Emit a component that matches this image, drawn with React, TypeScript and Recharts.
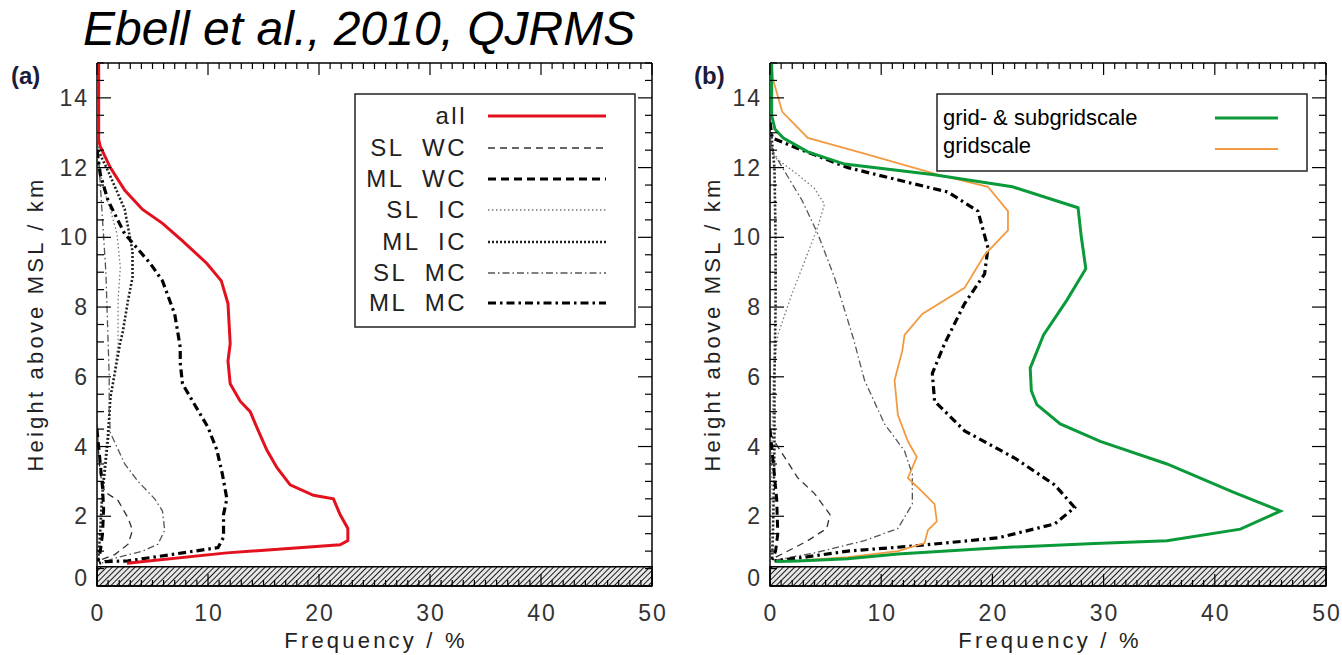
import { ScatterChart, Scatter, XAxis, YAxis, ReferenceArea } from "recharts"

// profiles: [frequency %, height km]
const allA = [[0.15,15],[0.15,13.6],[0.15,12.8],[0.3,12.6],[1.2,12.0],[2.5,11.35],[4.1,10.8],[5.9,10.4],[7.7,9.9],[9.9,9.25],[11.2,8.75],[11.8,8.1],[12.0,6.95],[11.8,6.45],[12.0,5.8],[12.9,5.3],[13.8,5.0],[14.4,4.55],[15.3,3.9],[16.2,3.4],[17.4,2.9],[19.5,2.6],[21.3,2.5],[21.9,2.05],[22.6,1.65],[22.6,1.3],[21.9,1.18],[11.7,0.95],[2.7,0.65]]
const slWcA = [[0,5.0],[0.1,4.0],[0.3,3.2],[0.7,2.7],[1.9,2.45],[2.8,1.95],[3.2,1.6],[2.8,1.2],[1.6,0.9],[0.1,0.72]]
const mlWcA = [[0,4.5],[0.3,3.5],[0.5,2.8],[0.6,2.2],[0.5,1.5],[0.3,1.0],[0.1,0.7]]
const slIcA = [[0,12.4],[0.5,11.5],[1.2,10.8],[1.8,10.1],[2.1,9.15],[1.9,8.2],[1.9,6.95],[1.5,6.0],[1.1,5.0],[0.8,4.0],[0.5,3.0],[0.3,2.0],[0.2,1.2],[0.1,0.7]]
const mlIcA = [[0,12.6],[0.4,12.3],[1.0,11.9],[2.5,10.8],[3.2,9.6],[3.2,8.85],[2.8,8.2],[2.3,7.25],[2.1,7.0],[1.6,6.1],[1.2,5.4],[1.0,4.25],[0.7,3.3],[0.45,2.5],[0.3,1.6],[0.1,0.7]]
const slMcA = [[0,12.6],[0.2,12.0],[0.4,11.0],[0.6,10.0],[0.8,9.0],[0.9,8.0],[1.0,7.0],[1.1,6.0],[1.1,5.0],[1.2,4.4],[2.5,3.5],[3.7,3.0],[5.2,2.5],[5.9,2.15],[6.1,1.6],[5.5,1.2],[4.1,1.0],[1.6,0.8],[0.3,0.65]]
const mlMcA = [[0,12.5],[0.3,11.8],[1.0,11.05],[2.5,10.1],[4.8,9.25],[5.9,8.75],[7.0,7.8],[7.5,6.85],[7.5,6.4],[7.7,5.8],[8.8,5.2],[10.0,4.55],[10.8,3.9],[11.3,3.2],[11.7,2.5],[11.4,2.05],[11.4,1.4],[10.9,1.1],[2.8,0.72],[0.7,0.7],[0.2,0.65]]

const gridSubB = [[0.15,15],[0.15,13.5],[0.45,13.1],[1.2,12.85],[3.4,12.45],[6.7,12.1],[14.6,11.8],[21.8,11.45],[27.7,10.85],[28.0,10.0],[28.4,9.1],[26.7,8.2],[24.6,7.2],[23.4,6.25],[23.5,5.6],[24.0,5.2],[26.1,4.65],[29.7,4.15],[35.7,3.5],[41.6,2.7],[45.9,2.15],[42.3,1.63],[35.7,1.3],[29.2,1.22],[20.6,1.1],[11.5,0.92],[7.0,0.78],[2.5,0.72],[0.5,0.7]]
const gridB = [[0.15,15],[0.3,14.5],[1.1,13.6],[3.4,12.85],[8.5,12.4],[15.1,11.8],[19.6,11.45],[21.4,10.75],[21.4,10.2],[19.3,9.5],[17.5,8.55],[13.7,7.8],[12.1,7.2],[11.9,6.75],[11.2,5.9],[11.5,4.9],[12.4,4.15],[13.2,3.7],[12.4,3.1],[13.7,2.7],[14.8,2.35],[15.0,1.85],[14.2,1.6],[13.9,1.23],[11.5,1.0],[7.0,0.83],[3.1,0.74]]
const slWcB = [[0,4.4],[0.5,4.1],[2.5,3.1],[4.0,2.65],[5.4,2.05],[5.1,1.65],[3.4,1.3],[1.3,0.95],[0.2,0.78]]
const mlWcB = [[0,4.5],[0.3,3.5],[0.6,2.5],[0.7,1.5],[0.5,1.0],[0.2,0.75]]
const slIcB = [[0,12.8],[0.4,12.3],[2.5,11.8],[4.0,11.4],[4.9,10.95],[4.3,10.3],[3.1,9.3],[2.0,8.4],[0.7,7.2],[0.3,6.0],[0.2,4.5],[0.1,3.0],[0,1.0]]
const mlIcB = [[0.1,13.0],[0.4,12.0],[0.5,10.0],[0.5,8.0],[0.4,6.0],[0.4,4.0],[0.3,2.0],[0.2,0.8]]
const slMcB = [[0,13.0],[0.2,12.5],[1.3,11.9],[2.9,11.05],[4.3,10.1],[5.8,8.85],[7.5,7.1],[8.5,5.9],[10.3,4.65],[12.1,3.87],[12.8,3.2],[12.8,2.35],[11.5,1.65],[8.5,1.3],[4.0,0.95],[1.1,0.78],[0.2,0.72]]
const mlMcB = [[0,13.3],[0.2,12.85],[2.5,12.55],[7.0,12.0],[12.1,11.6],[16.0,11.3],[18.7,10.75],[19.6,9.7],[19.3,8.95],[17.5,8.1],[15.7,6.95],[14.6,6.1],[14.8,5.3],[17.5,4.45],[22.0,3.67],[25.6,2.9],[27.4,2.25],[25.6,1.78],[20.5,1.38],[13.0,1.15],[7.0,1.0],[2.5,0.8],[0.4,0.72]]

const X_TICKS = Array.from({ length: 51 }, (_, i) => i)
const Y_TICKS = Array.from({ length: 31 }, (_, i) => i * 0.5)
const GROUND_KM = 0.55

const LEGEND_A = ["all", "SL  WC", "ML  WC", "SL  IC", "ML  IC", "SL  MC", "ML  MC"]
const LEGEND_B = ["grid- & subgridscale", "gridscale"]

const FONT = "'Liberation Sans', Arial, sans-serif"
const RED = "#e3101e"
const GREEN = "#0b9a3a"
const ORANGE = "#f39a40"

const S = {
  all: { stroke: RED, strokeWidth: 3 },
  slWc: { stroke: "#333", strokeWidth: 1.3, strokeDasharray: "7 5" },
  mlWc: { stroke: "#000", strokeWidth: 3, strokeDasharray: "8 5" },
  slIc: { stroke: "#777", strokeWidth: 1.3, strokeDasharray: "1.5 2.5" },
  mlIc: { stroke: "#222", strokeWidth: 2.6, strokeDasharray: "2 2" },
  slMc: { stroke: "#555", strokeWidth: 1.3, strokeDasharray: "7 3 1.5 3" },
  mlMc: { stroke: "#000", strokeWidth: 3.2, strokeDasharray: "8 4 2.5 4" },
  gridSub: { stroke: GREEN, strokeWidth: 3 },
  grid: { stroke: ORANGE, strokeWidth: 1.8 },
}

const pts = (a: number[][]) => a.map(([f, h]) => ({ f, h }))
const noDot = () => <g />

const tickText = { fontSize: 23, fontFamily: FONT, fill: "#333", letterSpacing: 2 }

function BottomTick({ x, y, payload }: any) {
  const major = payload.value % 10 === 0
  return (
    <g>
      <line x1={x} x2={x} y1={y} y2={y - (major ? 12 : 6)} stroke="#000" strokeWidth={1.2} />
      {major && <text x={x + 1} y={y + 35} textAnchor="middle" {...tickText}>{payload.value}</text>}
    </g>
  )
}
function TopTick({ x, y, payload }: any) {
  const major = payload.value % 10 === 0
  return <line x1={x} x2={x} y1={y} y2={y + (major ? 12 : 6)} stroke="#000" strokeWidth={1.2} />
}
function LeftTick({ x, y, payload }: any) {
  const major = payload.value % 2 === 0
  return (
    <g>
      <line x1={x} x2={x + (major ? 14 : 7)} y1={y} y2={y} stroke="#000" strokeWidth={1.2} />
      {major && payload.value < 15 && (
        <text x={x - 8} y={y + 8 - (payload.value === 0 ? 8 : 0)} textAnchor="end" {...tickText}>{payload.value}</text>
      )}
    </g>
  )
}
function RightTick({ x, y, payload }: any) {
  const major = payload.value % 2 === 0
  return <line x1={x} x2={x - (major ? 14 : 7)} y1={y} y2={y} stroke="#000" strokeWidth={1.2} />
}

const AXIS_LINE = { stroke: "#000", strokeWidth: 1.5 }

function Panel({ id, left, plotLeft, plotRight, series }: any) {
  // axis boxes: bottom 40, top 10, left 40, right 10
  return (
    <div style={{ position: "absolute", left, top: 0 }}>
      <ScatterChart width={671} height={655} margin={{ top: 53, left: plotLeft - 40, right: 671 - plotRight - 10, bottom: 29 }}>
        <defs>
          <pattern id={"hatch" + id} patternUnits="userSpaceOnUse" width={4} height={4} patternTransform="rotate(-45)">
            <rect width={4} height={4} fill="#bbb" fillOpacity={0.35} />
            <line x1={0} y1={0} x2={4} y2={0} stroke="#1a1a1a" strokeWidth={2} />
          </pattern>
        </defs>
        <XAxis xAxisId="b" type="number" dataKey="f" domain={[0, 50]} allowDataOverflow ticks={X_TICKS} interval={0}
          height={40} tickSize={0} tickMargin={0} tickLine={false} tick={<BottomTick />} axisLine={AXIS_LINE} />
        <XAxis xAxisId="t" orientation="top" type="number" dataKey="f" domain={[0, 50]} allowDataOverflow ticks={X_TICKS} interval={0}
          height={10} tickSize={0} tickMargin={0} tickLine={false} tick={<TopTick />} axisLine={AXIS_LINE} />
        <YAxis yAxisId="l" type="number" dataKey="h" domain={[0, 15]} allowDataOverflow ticks={Y_TICKS} interval={0}
          width={40} tickSize={0} tickMargin={0} tickLine={false} tick={<LeftTick />} axisLine={AXIS_LINE} />
        <YAxis yAxisId="r" orientation="right" type="number" dataKey="h" domain={[0, 15]} allowDataOverflow ticks={Y_TICKS} interval={0}
          width={10} tickSize={0} tickMargin={0} tickLine={false} tick={<RightTick />} axisLine={AXIS_LINE} />
        <ReferenceArea xAxisId="b" yAxisId="l" x1={0} x2={50} y1={0} y2={GROUND_KM} fill={`url(#hatch${id})`} fillOpacity={1} stroke="#000" strokeWidth={1.5} />
        {series.map(([data, style]: any, i: number) => (
          <Scatter key={i} xAxisId={i % 2 ? "t" : "b"} yAxisId={i % 2 ? "r" : "l"} data={pts(data)} shape={noDot}
            line={style} lineType="joint" fill={style.stroke} legendType="none" isAnimationActive={false} />
        ))}
      </ScatterChart>
    </div>
  )
}

const label = { fontFamily: FONT, fontSize: 22, fill: "#222", letterSpacing: 3.2 }

export default function App() {
  const legendRowsA = [S.all, S.slWc, S.mlWc, S.slIc, S.mlIc, S.slMc, S.mlMc]
  const rowY = [116, 148, 179, 210, 242, 273, 303]
  return (
    <div style={{ position: "absolute", left: 0, top: 0, width: 1342, height: 655, background: "#fff", overflow: "hidden" }}>
      <Panel id="a" left={0} plotLeft={97} plotRight={652}
        series={[[slIcA, S.slIc], [mlIcA, S.mlIc], [slWcA, S.slWc], [mlWcA, S.mlWc], [slMcA, S.slMc], [mlMcA, S.mlMc], [allA, S.all]]} />
      <Panel id="b" left={671} plotLeft={99} plotRight={655}
        series={[[slIcB, S.slIc], [mlIcB, S.mlIc], [slWcB, S.slWc], [mlWcB, S.mlWc], [slMcB, S.slMc], [mlMcB, S.mlMc], [gridB, S.grid], [gridSubB, S.gridSub]]} />
      <svg width={1342} height={655} style={{ position: "absolute", left: 0, top: 0, pointerEvents: "none" }}>
        <text x={83} y={45} fontFamily="'Liberation Sans', Arial, sans-serif" fontStyle="italic" fontSize={48} fill="#000">
          Ebell et al., 2010, QJRMS
        </text>
        <text x={11} y={84} fontFamily={FONT} fontWeight="bold" fontSize={24} fill="#1b1b3a">(a)</text>
        <text x={694} y={84} fontFamily={FONT} fontWeight="bold" fontSize={24} fill="#1b1b3a">(b)</text>

        <text x={35} y={324} transform="rotate(-90 35 324)" textAnchor="middle" dominantBaseline="central" {...label}>Height above MSL / km</text>
        <text x={712} y={324} transform="rotate(-90 712 324)" textAnchor="middle" dominantBaseline="central" {...label}>Height above MSL / km</text>
        <text x={376} y={648} textAnchor="middle" {...label}>Frequency / %</text>
        <text x={1050} y={648} textAnchor="middle" {...label}>Frequency / %</text>

        <rect x={355} y={94} width={280} height={233} fill="#fff" stroke="#222" strokeWidth={1.5} />
        {LEGEND_A.map((t, i) => (
          <g key={t}>
            <text x={467} y={rowY[i] + 8} textAnchor="end" fontFamily={FONT} fontSize={24} fill="#222" letterSpacing={2.5} style={{ whiteSpace: "pre" }}>{t}</text>
            <line x1={488} x2={606} y1={rowY[i]} y2={rowY[i]} {...legendRowsA[i]} />
          </g>
        ))}

        <rect x={937} y={94} width={370} height={77} fill="#fff" stroke="#222" strokeWidth={1.5} />
        {LEGEND_B.map((t, i) => (
          <g key={t}>
            <text x={943} y={125 + i * 28} fontFamily="Arial, 'Liberation Sans', sans-serif" fontSize={22} fill="#000">{t}</text>
            <line x1={1215} x2={1278} y1={118 + i * 31} y2={118 + i * 31} {...(i === 0 ? S.gridSub : S.grid)} />
          </g>
        ))}
      </svg>
    </div>
  )
}
